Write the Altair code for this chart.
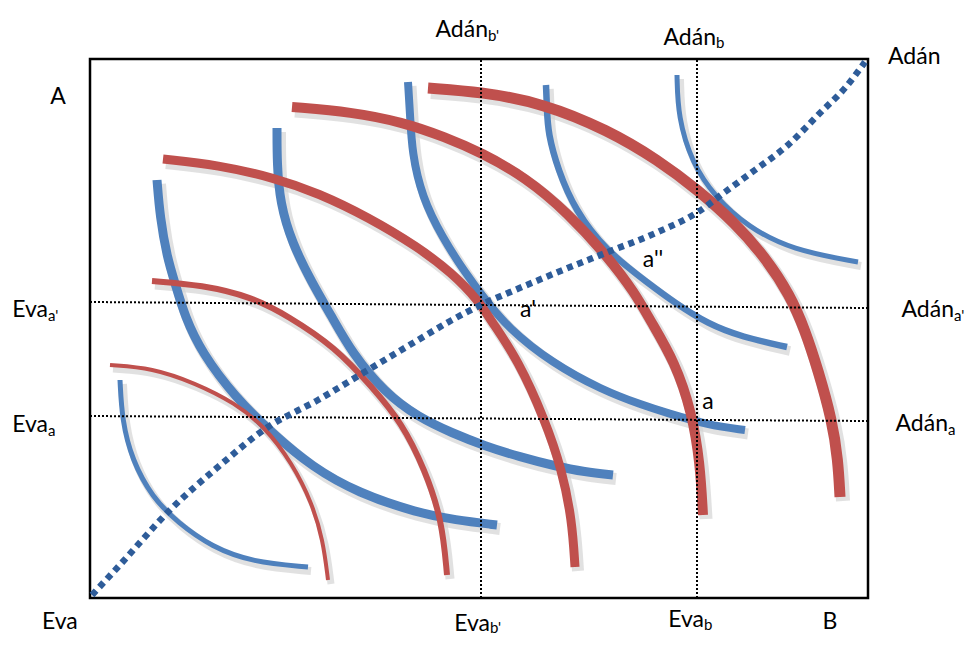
import altair as alt
import pandas as pd

# Edgeworth box in box units: x runs Eva -> B (0..778), y runs Eva -> A (0..539)
X_MAX = 778
Y_MAX = 539

# Eva's indifference curves (red), from inner to outer
r1_x = [20, 62, 105, 145, 175, 202, 222, 233, 238]
r1_y = [233, 230, 215, 195, 171, 135, 95, 58, 18]
r2_x = [62, 112, 162, 198, 245, 282, 312, 335, 352, 357]
r2_y = [317, 313, 301, 282, 251, 211, 175, 128, 78, 23]
r3_x = [73, 128, 185, 228, 278, 328, 362, 388, 402, 428, 455, 472, 482, 485]
r3_y = [439, 433, 420, 405, 381, 351, 325, 298, 276, 238, 178, 128, 78, 31]
r4_x = [202, 262, 312, 355, 392, 435, 478, 518, 545, 560, 585, 602, 610, 613]
r4_y = [491, 486, 476, 461, 445, 421, 385, 341, 305, 278, 236, 185, 135, 83]
r5_x = [338, 392, 452, 518, 568, 608, 645, 675, 700, 715, 728, 742, 748, 750]
r5_y = [510, 506, 495, 468, 438, 408, 375, 341, 303, 268, 228, 178, 138, 101]

# Adán's indifference curves (blue)
b1_x = [30, 32, 42, 62, 88, 122, 162, 218]
b1_y = [218, 178, 138, 101, 75, 51, 36, 31]
b2_x = [67, 70, 77, 85, 95, 112, 145, 182, 222, 268, 328, 365, 407]
b2_y = [418, 381, 341, 315, 281, 245, 201, 165, 131, 105, 85, 78, 73]
b3_x = [187, 187, 190, 202, 222, 242, 262, 295, 328, 362, 395, 430, 465, 495, 523]
b3_y = [470, 435, 395, 355, 315, 281, 245, 205, 181, 165, 152, 141, 132, 126, 123]
b4_x = [318, 320, 322, 332, 352, 376, 394, 418, 462, 512, 552, 577, 618, 655]
b4_y = [516, 485, 445, 401, 361, 324, 300, 270, 235, 208, 193, 185, 173, 168]
b5_x = [456, 457, 458, 468, 485, 515, 558, 585, 618, 652, 697]
b5_y = [513, 488, 465, 428, 388, 348, 315, 295, 274, 261, 251]
b6_x = [587, 588, 602, 625, 658, 702, 768]
b6_y = [523, 481, 435, 401, 371, 348, 336]

# Contract curve (dashed)
cc_x = [2, 28, 82, 128, 178, 228, 278, 328, 362, 395, 418, 468, 518, 568, 608,
        635, 665, 698, 730, 755, 775]
cc_y = [3, 31, 90, 131, 171, 198, 228, 258, 278, 295, 305, 326, 346, 366, 386,
        406, 428, 453, 485, 510, 536]

# Dotted guide lines
v_lines = [391, 607]
h1_x = [0, 778]
h1_y = [296, 290]
h2_x = [0, 778]
h2_y = [182, 177]

# Labels: main text (right-aligned at junction) + subscript (left-aligned)
sub_main = ["Adán", "Adán", "Eva", "Eva", "Adán", "Adán", "Eva", "Eva"]
sub_sub = ["b'", "b", "a'", "a", "a'", "a", "b'", "b"]
sub_x = [398, 626, -42, -42, 864, 858, 400, 614]
sub_main_y = [568, 560, 288, 173, 288, 174, -26, -22]
sub_sub_y = [562, 555, 282, 167, 282, 168, -30, -27]

plain_text = ["Adán", "Eva"]
plain_x = [798, -48]
plain_y = [541, -24]

center_text = ["A", "B", "a'", "a''", "a"]
center_x = [-32, 740, 438, 563, 618]
center_y = [501, -24, 288, 338, 196]

RED = "#C0504D"
BLUE = "#4F81BD"
NAVY = "#2E5C99"
SHADOW = "#D4D4D4"
FONT = "Lato"
FS = 23
FS_SUB = 15

xs = alt.Scale(domain=[0, X_MAX], nice=False, zero=False)
ys = alt.Scale(domain=[0, Y_MAX], nice=False, zero=False)


def enc(ch):
    return ch.encode(
        x=alt.X("x:Q", scale=xs, axis=None),
        y=alt.Y("y:Q", scale=ys, axis=None),
        order="i:Q",
    )


def curve(xv, yv, color, width, dash=None, interp="basis", **extra):
    df = pd.DataFrame({"x": xv, "y": yv, "i": list(range(len(xv)))})
    kw = dict(color=color, strokeWidth=width, strokeCap="butt", interpolate=interp)
    if dash is not None:
        kw["strokeDash"] = dash
    kw.update(extra)
    return enc(alt.Chart(df).mark_line(**kw))


blue_curves = [(b1_x, b1_y, 5), (b2_x, b2_y, 9), (b3_x, b3_y, 9),
               (b4_x, b4_y, 8), (b5_x, b5_y, 6.5), (b6_x, b6_y, 5)]
red_curves = [(r1_x, r1_y, 4), (r2_x, r2_y, 6), (r3_x, r3_y, 9),
              (r4_x, r4_y, 10), (r5_x, r5_y, 11)]

layers = []
# soft shadows
for cx, cy, w in blue_curves + red_curves:
    layers.append(curve(cx, cy, SHADOW, w + 3, xOffset=3, yOffset=4, opacity=0.7))
# blue first, then red
for cx, cy, w in blue_curves:
    layers.append(curve(cx, cy, BLUE, w))
for cx, cy, w in red_curves:
    layers.append(curve(cx, cy, RED, w))

# dotted guides
for vx in v_lines:
    layers.append(curve([vx, vx], [0, Y_MAX], "black", 2, dash=[2, 2], interp="linear"))
layers.append(curve(h1_x, h1_y, "black", 2, dash=[2, 2], interp="linear"))
layers.append(curve(h2_x, h2_y, "black", 2, dash=[2, 2], interp="linear"))

# contract curve
layers.append(curve(cc_x, cc_y, NAVY, 6.5, dash=[6, 5], interp="monotone"))

# labels
main_df = pd.DataFrame({"t": sub_main, "x": sub_x, "y": sub_main_y})
subs_df = pd.DataFrame({"t": sub_sub, "x": sub_x, "y": sub_sub_y})
plain_df = pd.DataFrame({"t": plain_text, "x": plain_x, "y": plain_y})
center_df = pd.DataFrame({"t": center_text, "x": center_x, "y": center_y})


def text_layer(df, align, size):
    return alt.Chart(df).mark_text(align=align, baseline="middle", font=FONT,
                                   fontSize=size, color="black").encode(
        x=alt.X("x:Q", scale=xs, axis=None),
        y=alt.Y("y:Q", scale=ys, axis=None),
        text="t:N",
    )


layers.append(text_layer(main_df, "right", FS))
layers.append(text_layer(subs_df, "left", FS_SUB))
layers.append(text_layer(plain_df, "left", FS))
layers.append(text_layer(center_df, "center", FS))

chart = alt.layer(*layers).properties(
    width=X_MAX, height=Y_MAX,
    autosize=alt.AutoSizeParams(type="none"),
    padding={"left": 82, "top": 51, "right": 97, "bottom": 40},
    background="white",
).configure_view(stroke="black", strokeWidth=2.5)

chart.save("out.html", embed_options={"renderer": "svg", "actions": False})
